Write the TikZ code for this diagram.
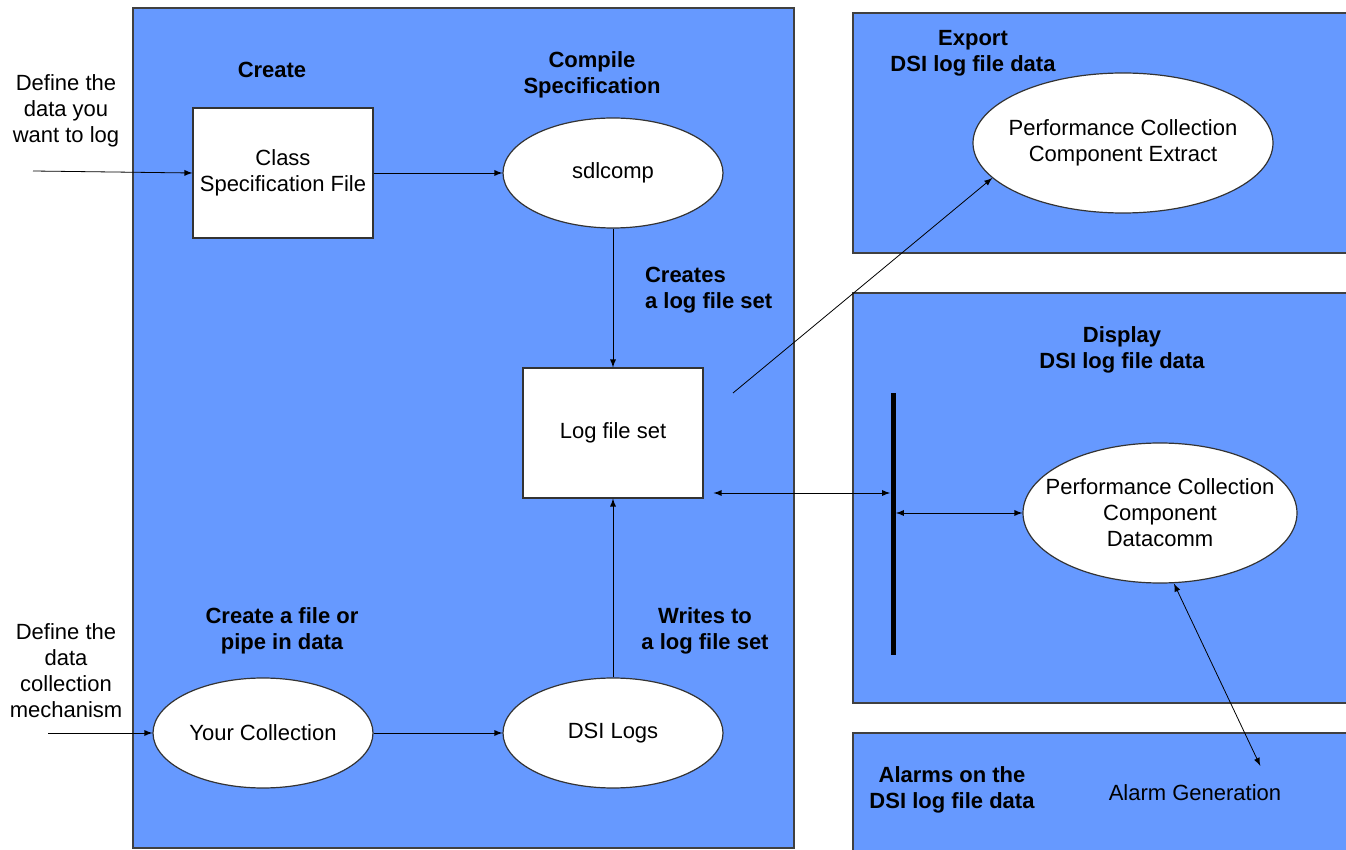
\documentclass[tikz,border=0pt]{standalone}
\usepackage{fontspec}
\setmainfont{Liberation Sans}
\usetikzlibrary{shapes.geometric}

\definecolor{stageblue}{RGB}{102,153,255}

\begin{document}
\begin{tikzpicture}[x=0.5pt, y=-0.5pt, >=latex,
	every node/.style={font=\fontsize{11}{13}\selectfont, align=center},
	stage/.style={draw=black!75, fill=stageblue, line width=0.7pt},
	filebox/.style={draw=black!80, fill=white, line width=0.6pt, minimum width=90pt, minimum height=65pt},
	proc/.style={draw=black!80, fill=white, line width=0.6pt, ellipse, inner sep=0pt, minimum width=110pt, minimum height=55pt},
	heading/.style={font=\fontsize{11}{13}\selectfont\bfseries}]

	\useasboundingbox (0,0) rectangle (1346,850);
	\clip (0,0) rectangle (1346,850);

	% Stage panels
	\draw[stage] (133,8) rectangle (794,848);
	\draw[stage] (853,13) rectangle (1352,253);
	\draw[stage] (853,293) rectangle (1352,703);
	\draw[stage] (853,733) rectangle (1352,860);

	% Headings
	\node[heading] (hcreate) at (272,70) {Create};
	\node[heading] (hcomp) at (592,75) {Compile\\Specification};
	\node[heading, align=left, anchor=west] (hcreates) at (638,290) {Creates\\a log file set};
	\node[heading] (hwrites) at (705,631) {Writes to\\a log file set};
	\node[heading] (hpipe) at (282,631) {Create a file or\\pipe in data};
	\node[heading] (hexport) at (973,53) {Export\\DSI log file data};
	\node[heading] (hdisplay) at (1122,350) {Display\\DSI log file data};
	\node[heading] (halarms) at (952,790) {Alarms on the\\DSI log file data};

	% Notes on the left
	\node (ndefine) at (66,111) {Define the\\data you\\want to log};
	\node (nmech) at (66,671) {Define the\\data\\collection\\mechanism};

	% Nodes
	\node[filebox] (spec) at (283,173) {Class\\Specification File};
	\node[proc] (comp) at (613,173) {sdlcomp};
	\node[filebox] (logset) at (613,433) {Log file set};
	\node[proc] (coll) at (263,733) {Your Collection};
	\node[proc] (dsi) at (613,733) {DSI Logs};
	\node[proc, inner xsep=-4.5pt, minimum width=150pt, minimum height=70pt] (extract) at (1123,143) {Performance Collection\\Component Extract};
	\node[proc, inner xsep=-9pt, minimum width=137pt, minimum height=70pt] (datacomm) at (1160,513) {Performance Collection\\Component\\Datacomm};
	\node (alarm) at (1195,793) {Alarm Generation};
	\node[fill=black, inner sep=0pt, minimum width=2.5pt, minimum height=131pt] (bar) at (893,524) {};

	\coordinate (in1) at (33,171);
	\coordinate (in2) at (48,733);
	\coordinate (out1) at (733,393);

	% Edges
	\draw[->] (in1) -- (spec.west);
	\draw[->] (spec) -- (comp);
	\draw[->] (comp) -- (logset);
	\draw[->] (in2) -- (coll.west);
	\draw[->] (coll) -- (dsi);
	\draw[->] (dsi) -- (logset);
	\draw[->] (out1) -- (extract.195);
	\draw[<->, shorten <=5pt] (logset.east |- 0,493) -- (bar.west |- 0,493);
	\draw[<->] (bar.east |- 0,513) -- (datacomm.west);
	\draw[<->] ([xshift=7pt]datacomm.south) -- ([xshift=-14pt, yshift=6pt]alarm.north east);
\end{tikzpicture}
\end{document}
